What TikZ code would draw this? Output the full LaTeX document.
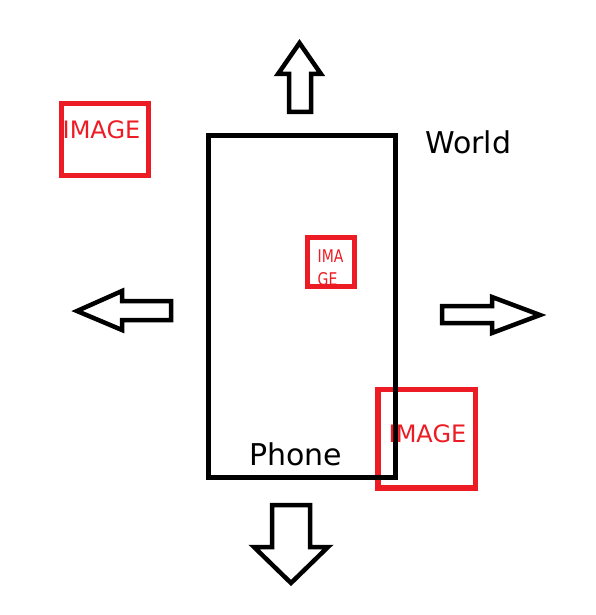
\documentclass[tikz,border=0pt]{standalone}
\usepackage{fontspec}
\setmainfont{DejaVu Sans}
\definecolor{pred}{RGB}{237,28,36}
\begin{document}
\begin{tikzpicture}[x=1pt,y=-1pt,
  imgbox/.style={draw=pred,line width=5.5pt,inner sep=0pt,fill=none},
  imgtxt/.style={text=pred,inner sep=0pt,anchor=base west,font=\fontsize{24}{24}\selectfont},
  bigarrow/.style={draw=black,line width=4.5pt,line join=miter,fill=white},
  lbl/.style={inner sep=0pt,anchor=base west,font=\fontsize{30}{30}\selectfont}]
\useasboundingbox[fill=white] (0,0) rectangle (596,615);
% image boxes
\node[imgbox,minimum width=87pt,minimum height=72pt] (img1) at (105,139.5) {};
\node[imgtxt] (img1t) at (62.5,138) {IMAGE};
\node[imgbox,minimum width=97.5pt,minimum height=98.5pt] (img3) at (426.75,438.75) {};
% phone
\node[draw=black,line width=5pt,inner sep=0pt,minimum width=187pt,minimum height=342pt] (phone) at (301.5,306) {};
\node[imgtxt] (img3t) at (388.5,442) {IMAGE};
\node[imgbox,minimum width=47pt,minimum height=49pt] (img2) at (331,262) {};
\node[imgtxt,font=\fontsize{17.5}{17.5}\selectfont,xscale=0.8,transform shape] (img2a) at (317.5,262) {IMA};
\node[imgtxt,font=\fontsize{17.5}{17.5}\selectfont,xscale=0.8,transform shape] (img2b) at (317.5,285) {GE};
% labels
\node[lbl] (world) at (425,153) {World};
\node[lbl] (phonelbl) at (249,465) {Phone};
% arrows
\draw[bigarrow] (299.5,43) -- (321,74) -- (311,74) -- (311,112) -- (289,112) -- (289,74) -- (278,74) -- cycle;
\draw[bigarrow] (77,311) -- (122,291) -- (122,301) -- (171,301) -- (171,320) -- (122,320) -- (122,330) -- cycle;
\draw[bigarrow] (540,315) -- (492,297) -- (492,306) -- (442,306) -- (442,323) -- (492,323) -- (492,333) -- cycle;
\draw[bigarrow] (291,583) -- (328,547) -- (310,547) -- (310,505) -- (272,505) -- (272,547) -- (254,547) -- cycle;
\end{tikzpicture}
\end{document}
